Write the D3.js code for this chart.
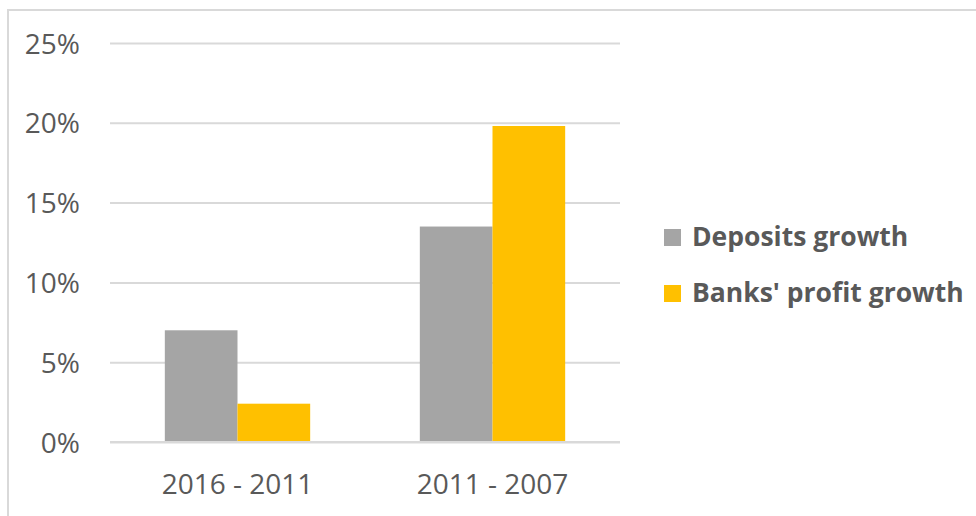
<!DOCTYPE html>
<html>
<head>
<meta charset="utf-8">
<script src="https://cdn.jsdelivr.net/npm/d3@7"></script>
<style>
  html, body { margin: 0; padding: 0; background: #fff; }
  svg { display: block; }
</style>
</head>
<body>
<svg id="chart" width="976" height="516"></svg>
<script>
// Growth comparison data (percent)
const periods = ["2016 - 2011", "2011 - 2007"];
const seriesNames = ["Deposits growth", "Banks' profit growth"];
const depositsGrowth = [7.0, 13.5];
const profitGrowth = [2.4, 19.8];
const yTicks = [0, 5, 10, 15, 20, 25];
const seriesColors = ["#a5a5a5", "#ffc000"];

const seriesValues = [depositsGrowth, profitGrowth];
const rows = periods.map((p, i) => ({
  period: p,
  values: seriesNames.map((s, j) => ({ series: s, value: seriesValues[j][i], color: seriesColors[j] }))
}));

const svg = d3.select("#chart");
const textColor = "#595959";
const gridColor = "#d9d9d9";
const font = "'Open Sans', 'Noto Sans', sans-serif";

// Chart area frame
svg.append("path")
  .attr("d", "M8,520 V10 H980")
  .attr("fill", "none")
  .attr("stroke", gridColor)
  .attr("stroke-width", 2);

const plot = { left: 110, right: 620, top: 43, bottom: 442 };

const x0 = d3.scaleBand()
  .domain(periods)
  .range([plot.left, plot.right])
  .paddingInner(0.43)
  .paddingOuter(0.215);

const x1 = d3.scaleBand()
  .domain(seriesNames)
  .range([0, x0.bandwidth()]);

const y = d3.scaleLinear()
  .domain([0, 25])
  .range([plot.bottom, plot.top]);

// Horizontal gridlines with percent labels
const yAxis = d3.axisLeft(y)
  .tickValues(yTicks)
  .tickSize(-(plot.right - plot.left))
  .tickPadding(30)
  .tickFormat(d => d + "%");

const gy = svg.append("g")
  .attr("transform", `translate(${plot.left},0)`)
  .call(yAxis);
gy.select(".domain").remove();
gy.selectAll(".tick line")
  .attr("stroke", gridColor)
  .attr("stroke-width", 2);
gy.selectAll(".tick text")
  .attr("fill", textColor)
  .style("font-family", font)
  .style("font-size", "28px")
  .attr("dy", "0.36em");

// Bars
const groups = svg.append("g")
  .selectAll("g")
  .data(rows)
  .join("g")
  .attr("transform", d => `translate(${x0(d.period)},0)`);

groups.selectAll("rect")
  .data(d => d.values)
  .join("rect")
  .attr("x", d => x1(d.series))
  .attr("width", x1.bandwidth())
  .attr("y", d => y(d.value))
  .attr("height", d => y(0) - y(d.value))
  .attr("fill", d => d.color);

// Redraw the baseline on top of the bars
svg.append("line")
  .attr("x1", plot.left).attr("x2", plot.right)
  .attr("y1", y(0)).attr("y2", y(0))
  .attr("stroke", gridColor)
  .attr("stroke-width", 2);

// Category labels
const xAxis = d3.axisBottom(x0).tickSize(0).tickPadding(0);
const gx = svg.append("g")
  .attr("transform", `translate(0,${plot.bottom})`)
  .call(xAxis);
gx.select(".domain").remove();
gx.selectAll(".tick text")
  .attr("fill", textColor)
  .attr("y", 52)
  .attr("dy", 0)
  .style("font-family", font)
  .style("font-size", "28px");

// Legend
const legend = svg.append("g")
  .selectAll("g")
  .data(seriesNames)
  .join("g")
  .attr("transform", (d, i) => `translate(664,${229 + i * 56})`);

legend.append("rect")
  .attr("width", 17)
  .attr("height", 17)
  .attr("fill", (d, i) => seriesColors[i]);

legend.append("text")
  .attr("x", 28)
  .attr("y", 17)
  .attr("fill", textColor)
  .style("font-family", font)
  .style("font-weight", "bold")
  .style("font-size", "26.5px")
  .text(d => d);
</script>
</body>
</html>
